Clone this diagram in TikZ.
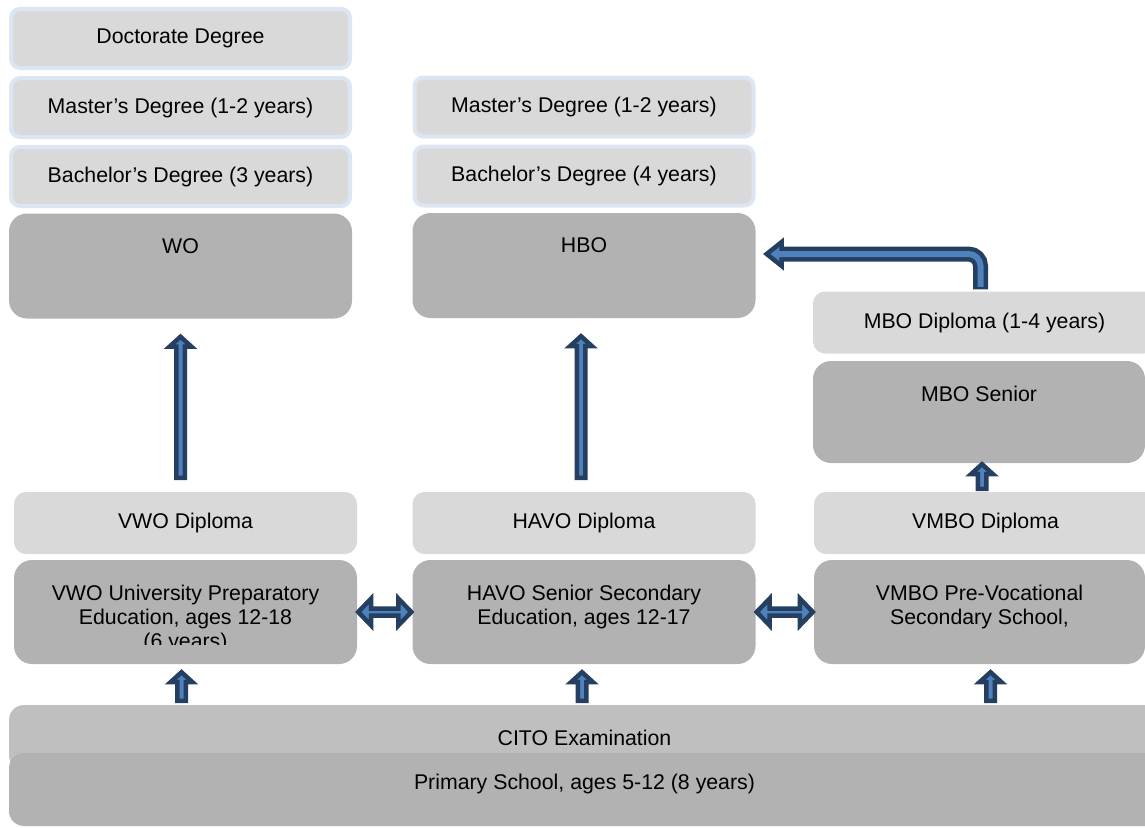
\documentclass[tikz,border=0pt]{standalone}
\usepackage{fontspec}
\setmainfont{Liberation Sans}
\usepackage{xcolor}
\definecolor{degreefill}{HTML}{D9D9D9}
\definecolor{degreeline}{HTML}{DCE6F2}
\definecolor{schoolfill}{HTML}{B2B2B2}
\definecolor{examfill}{HTML}{BFBFBF}
\definecolor{arrowdark}{HTML}{243F60}
\definecolor{arrowlight}{HTML}{4F81BD}
\usetikzlibrary{calc}
\tikzset{
    degree/.style={
           rectangle,
           rounded corners=9pt,
           draw=degreeline, line width=4pt,
           fill=degreefill,
           minimum width=339pt,
           minimum height=59pt,
           inner sep=0pt,
           text centered
           },
    diploma/.style={
           rectangle,
           rounded corners=12pt,
           fill=degreefill,
           minimum width=343pt,
           minimum height=62pt,
           inner sep=0pt
           },
    school/.style={
           rectangle,
           rounded corners=18pt,
           fill=schoolfill,
           minimum width=343pt,
           minimum height=104pt,
           inner sep=0pt
           },
    toptext/.style={
           label={[anchor=north, inner sep=0pt, yshift=-25pt, align=center]north:#1}
           },
    blockarrow/.style={
           draw=arrowdark, fill=arrowlight,
           line width=4.5pt, line join=miter
           },
}
% vertical block arrow, only the y of #1 is used
\newcommand\blockup[2]{%
  \draw[blockarrow] let \p1=(#1), \p2=(#2) in
    (\x2-4.25pt,\y1) -- (\x2-4.25pt,\y2-10pt) -- (\x2-11pt,\y2-10pt) -- (\x2,\y2)
    -- (\x2+11pt,\y2-10pt) -- (\x2+4.25pt,\y2-10pt) -- (\x2+4.25pt,\y1) -- cycle;}
% horizontal block arrow with two heads
\newcommand\blockboth[2]{%
  \draw[blockarrow] let \p1=(#1), \p2=(#2) in
    (\x1,\y1) -- (\x1+13pt,\y1+13.5pt) -- (\x1+13pt,\y1+3.5pt) -- (\x2-13pt,\y1+3.5pt)
    -- (\x2-13pt,\y1+13.5pt) -- (\x2,\y1) -- (\x2-13pt,\y1-13.5pt) -- (\x2-13pt,\y1-3.5pt)
    -- (\x1+13pt,\y1-3.5pt) -- (\x1+13pt,\y1-13.5pt) -- cycle;}

\begin{document}
\begin{tikzpicture}[x=1pt,y=-1pt,font=\fontsize{21.3}{24}\selectfont]
    \useasboundingbox (0,0) rectangle (1145,827);

    % university column
    \node[degree] (phd) at (180.5,38.5) {Doctorate Degree};
    \node[degree, node distance=69pt, below of=phd] (wo-master)
        {Master’s Degree (1-2 years)};
    \node[degree, node distance=69pt, below of=wo-master] (wo-bachelor)
        {Bachelor’s Degree (3 years)};
    \node[school, toptext=WO, minimum height=105pt,
        node distance=89.5pt, below of=wo-bachelor] (wo) {};

    % applied sciences column
    \node[degree] (hbo-master) at (584,107) {Master’s Degree (1-2 years)};
    \node[degree, node distance=69pt, below of=hbo-master] (hbo-bachelor)
        {Bachelor’s Degree (4 years)};
    \node[school, toptext=HBO, minimum height=105pt,
        node distance=89.5pt, below of=hbo-bachelor] (hbo) {};

    % vocational column
    \node[diploma] (mbo-diploma) at (984.5,322.5) {MBO Diploma (1-4 years)};
    \node[school, toptext=MBO Senior, minimum width=332pt, minimum height=102pt]
        (mbo) at (979,412) {};

    % secondary schools
    \node[diploma] (vwo-diploma) at (185.5,523) {VWO Diploma};
    \node[diploma] (havo-diploma) at (584,523) {HAVO Diploma};
    \node[diploma] (vmbo-diploma) at (985.5,523) {VMBO Diploma};

    \node[school] (vwo) at (185.5,612) {};
    \begin{scope}
        \clip (vwo.north west) rectangle ([yshift=20pt]vwo.south east);
        \node[anchor=north, inner sep=0pt, align=center] (vwo-text)
            at ([yshift=-25pt]vwo.north)
            {VWO University Preparatory\\Education, ages 12-18\\(6 years)};
    \end{scope}
    \node[school, toptext={HAVO Senior Secondary\\Education, ages 12-17}]
        (havo) at (584,612) {};
    \node[school, toptext={VMBO Pre-Vocational\\Secondary School,},
        minimum width=331pt] (vmbo) at (979.5,612) {};

    % primary level
    \node[rectangle, rounded corners=15pt, fill=examfill,
        minimum width=1151pt, minimum height=65pt,
        toptext=CITO Examination] (cito) at (584.5,737.5) {};
    \node[rectangle, rounded corners=15pt, fill=schoolfill,
        minimum width=1151pt, minimum height=73pt,
        label={[anchor=north, inner sep=0pt, yshift=-21pt]north:Primary School, ages 5-12 (8 years)}]
        (primary) at (584.5,789.5) {};

    % transfers
    \blockup{[yshift=4pt]cito.north}{[xshift=-4pt,yshift=-8pt]vwo.south}
    \blockup{[yshift=4pt]cito.north}{[xshift=-2pt,yshift=-8pt]havo.south}
    \blockup{[yshift=4pt]cito.north}{[xshift=11pt,yshift=-8pt]vmbo.south}
    \blockboth{[xshift=1pt]vwo.east}{[xshift=-1pt]havo.west}
    \blockboth{[xshift=1pt]havo.east}{[xshift=-1pt]vmbo.west}
    \blockup{[yshift=14pt]vwo-diploma.north}{[yshift=-18pt]wo.south}
    \blockup{[yshift=14pt]havo-diploma.north}{[xshift=-3pt,yshift=-18pt]hbo.south}
    \blockup{[yshift=3pt]vmbo-diploma.north}{[xshift=3pt,yshift=-1pt]mbo.south}

    % MBO diploma on to HBO
    \coordinate (bend-start) at ([xshift=-4pt,yshift=2pt]mbo-diploma.north);
    \coordinate (bend-tip) at ([xshift=11pt,yshift=11.5pt]hbo.east);
    \draw[arrowdark, line width=15pt, rounded corners=12pt]
        (bend-start) |- ([xshift=14pt]bend-tip);
    \draw[blockarrow] (bend-tip) -- ++(15pt,12pt) -- ++(0pt,-24pt) -- cycle;
    \draw[arrowlight, line width=6pt, rounded corners=12pt]
        ([yshift=2.5pt]bend-start) |- ([xshift=8pt]bend-tip);
\end{tikzpicture}
\end{document}
